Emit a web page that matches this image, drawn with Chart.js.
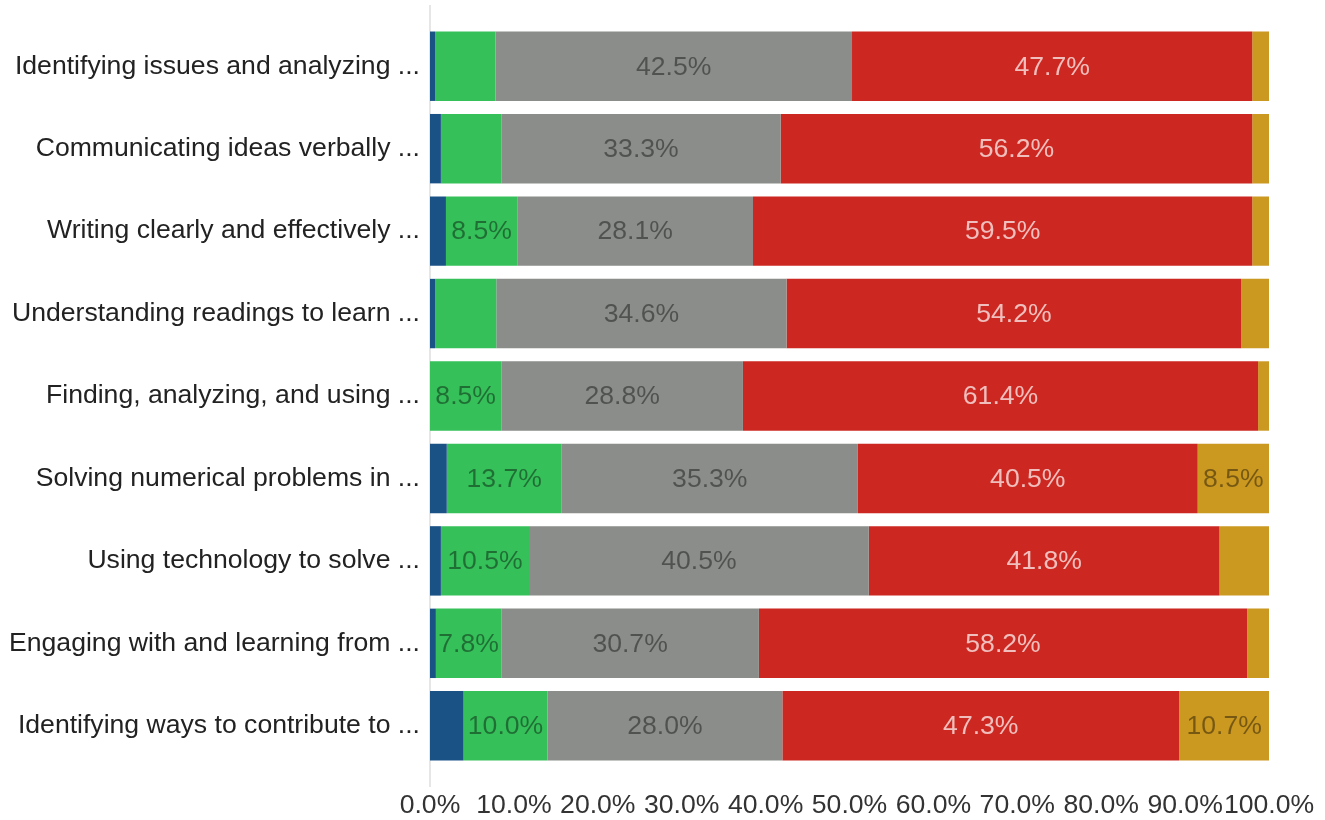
<!DOCTYPE html>
<html>
<head>
<meta charset="utf-8">
<script src="https://cdn.jsdelivr.net/npm/chart.js@4"></script>
<style>
html,body{margin:0;padding:0;background:#fff;}
#wrap{width:1325px;height:820px;}
</style>
</head>
<body>
<div id="wrap"><canvas id="c" width="1325" height="820"></canvas></div>
<script>
const categories = [
  "Identifying issues and analyzing ...",
  "Communicating ideas verbally ...",
  "Writing clearly and effectively ...",
  "Understanding readings to learn ...",
  "Finding, analyzing, and using ...",
  "Solving numerical problems in ...",
  "Using technology to solve ...",
  "Engaging with and learning from ...",
  "Identifying ways to contribute to ..."
];
const seriesNames = ["Series 1", "Series 2", "Series 3", "Series 4", "Series 5"];
const series1 = [0.6, 1.3, 1.9, 0.6, 0.0, 2.0, 1.3, 0.7, 4.0];
const series2 = [7.2, 7.2, 8.5, 7.3, 8.5, 13.7, 10.5, 7.8, 10.0];
const series3 = [42.5, 33.3, 28.1, 34.6, 28.8, 35.3, 40.5, 30.7, 28.0];
const series4 = [47.7, 56.2, 59.5, 54.2, 61.4, 40.5, 41.8, 58.2, 47.3];
const series5 = [2.0, 2.0, 2.0, 3.3, 1.3, 8.5, 5.9, 2.6, 10.7];
const xTicks = [0, 10, 20, 30, 40, 50, 60, 70, 80, 90, 100];

const colors = ["#1a5286", "#36c05a", "#8a8d89", "#cc2720", "#cb9820"];
const labelColors = ["rgba(255,255,255,0.7)", "rgba(0,0,0,0.42)", "rgba(0,0,0,0.42)", "rgba(255,255,255,0.7)", "rgba(0,0,0,0.42)"];
const FONT = "'Liberation Sans', Arial, sans-serif";
const FS = 26.6;

const allSeries = [series1, series2, series3, series4, series5];

const axisLine = {
  id: 'axisLine',
  beforeDatasetsDraw(chart) {
    const ctx = chart.ctx, x = chart.scales.x.getPixelForValue(0), a = chart.chartArea;
    ctx.save();
    ctx.strokeStyle = '#e6e6e6';
    ctx.lineWidth = 2;
    ctx.beginPath();
    ctx.moveTo(x, a.top - 20);
    ctx.lineTo(x, a.bottom + 20);
    ctx.stroke();
    ctx.restore();
  }
};

const barLabels = {
  id: 'barLabels',
  afterDatasetsDraw(chart) {
    const ctx = chart.ctx;
    ctx.save();
    ctx.font = FS + "px " + FONT;
    ctx.textAlign = 'center';
    ctx.textBaseline = 'middle';
    chart.data.datasets.forEach((ds, di) => {
      const meta = chart.getDatasetMeta(di);
      meta.data.forEach((el, i) => {
        const v = ds.data[i];
        if (v >= 7.5) {
          const p = el.getProps(['x', 'y', 'base'], true);
          ctx.fillStyle = labelColors[di];
          ctx.fillText(v.toFixed(1) + '%', (p.x + p.base) / 2, p.y + 1);
        }
      });
    });
    ctx.restore();
  }
};

new Chart(document.getElementById('c'), {
  type: 'bar',
  data: {
    labels: categories,
    datasets: allSeries.map((d, i) => ({
      label: seriesNames[i],
      data: d,
      backgroundColor: colors[i],
      borderWidth: 0,
      barPercentage: 0.842,
      categoryPercentage: 1.0
    }))
  },
  options: {
    indexAxis: 'y',
    responsive: false,
    animation: false,
    layout: { padding: { top: 25, right: 56, bottom: 0, left: 0 } },
    plugins: { legend: { display: false }, tooltip: { enabled: false } },
    scales: {
      x: {
        stacked: true,
        min: 0, max: 100,
        afterBuildTicks(scale) { scale.ticks = xTicks.map(v => ({ value: v })); },
        afterFit(scale) { scale.height = 53; },
        grid: { display: false, tickLength: 21 },
        border: { display: false },
        ticks: {
          autoSkip: false, maxRotation: 0, padding: 2,
          color: '#333',
          font: { family: FONT, size: FS },
          callback: v => Number(v).toFixed(1) + '%'
        }
      },
      y: {
        stacked: true,
        afterFit(scale) { scale.width = 430; },
        grid: { display: false },
        border: { display: false },
        ticks: {
          padding: 2,
          color: '#222',
          font: { family: FONT, size: FS }
        }
      }
    }
  },
  plugins: [axisLine, barLabels]
});
</script>
</body>
</html>
